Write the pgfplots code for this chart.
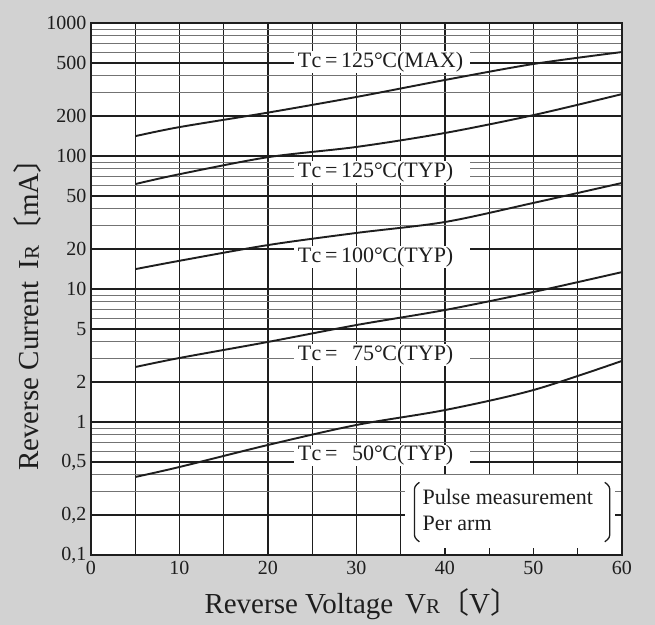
\documentclass[border=0pt]{standalone}
\usepackage{fontspec}
\setmainfont{Liberation Serif}
\newfontfamily\cjk{Noto Sans CJK JP}
\usepackage{pgfplots}
\pgfplotsset{compat=1.18}

\definecolor{bg}{RGB}{210,210,210}
\definecolor{ink}{RGB}{30,30,30}
\definecolor{minorgrid}{RGB}{115,115,115}

\newcommand{\tc}[1]{T\kern0.3bp c\,=\,#1\kern-0.5bp C(TYP)}

\begin{document}
\begin{tikzpicture}
% page background
\fill[bg] (-91bp,-70bp) rectangle (564bp,555bp);
\begin{axis}[
  at={(0,0)}, anchor=south west,
  width=531bp, height=532bp, scale only axis,
  xmin=0, xmax=60, ymin=0.1, ymax=1000,
  ymode=log,
  axis background/.style={fill=white},
  axis line style={line width=1.3bp, ink},
  xtick={0,10,...,60},
  xticklabels={0,10,20,30,40,50,60},
  minor xtick={5,15,...,55},
  ytick={0.1,0.2,0.5,1,2,5,10,20,50,100,200,500,1000},
  yticklabels={{0,1},{0,2},{0,5},1,2,5,10,20,50,100,200,500,1000},
  minor ytick={0.3,0.4,0.6,0.7,0.8,0.9,3,4,6,7,8,9,30,40,60,70,80,90,300,400,600,700,800,900},
  major tick length=0pt, minor tick length=0pt,
  grid=both,
  major x grid style={line width=1.1bp, ink},
  minor x grid style={line width=0.9bp, ink},
  major y grid style={line width=1.2bp, ink},
  minor y grid style={line width=0.9bp, minorgrid},
  tick label style={font=\fontsize{20bp}{20bp}\selectfont, text=ink},
  xticklabel style={yshift=-3bp},
  yticklabel style={xshift=-1bp},
  xlabel={Reverse Voltage\hspace{12bp}V{\fontsize{21bp}{21bp}\selectfont R}{\cjk 〔}V{\cjk 〕}},
  ylabel={Reverse Current\hspace{12bp}I{\fontsize{21bp}{21bp}\selectfont R}{\cjk 〔}mA{\cjk 〕}},
  label style={font=\fontsize{29bp}{29bp}\selectfont, text=ink},
  xlabel style={at={(axis description cs:0.51,-0.092)}, anchor=center},
  ylabel style={at={(axis description cs:-0.119,0.465)}, anchor=center, rotate=0},
  curve/.style={ink, line width=1.9bp, smooth, mark=none},
]
% Tc = 125 C (MAX)
\addplot[curve] coordinates {(5,141) (10,165) (20,212) (30,278) (40,373) (50,492) (60,605)};
% Tc = 125 C (TYP)
\addplot[curve] coordinates {(5,61.5) (10,73) (20,98) (30,117) (40,149) (50,203) (60,292)};
% Tc = 100 C (TYP)
\addplot[curve] coordinates {(5,14.1) (10,16.3) (20,21.4) (30,26.4) (40,31.9) (50,44.4) (60,62.7)};
% Tc = 75 C (TYP)
\addplot[curve] coordinates {(5,2.59) (10,3.03) (20,4.0) (30,5.36) (40,6.95) (50,9.5) (60,13.4)};
% Tc = 50 C (TYP)
\addplot[curve] coordinates {(5,0.386) (10,0.459) (20,0.672) (30,0.95) (40,1.23) (50,1.74) (60,2.88)};

\tikzset{lab/.style={anchor=west, fill=white, inner xsep=4bp, inner ysep=1bp,
  text width=168bp, align=left, text=ink, font=\fontsize{22bp}{22bp}\selectfont}}
\node[lab] at (axis cs:22.9,510) {T\kern0.3bp c\,=\,125°\kern-0.5bp C(MAX)};
\node[lab] at (axis cs:22.9,76) {\tc{125°}};
\node[lab] at (axis cs:22.9,17.4) {\tc{100°}};
\node[lab] at (axis cs:22.9,3.2) {\tc{\phantom{1}75°}};
\node[lab] at (axis cs:22.9,0.56) {\tc{\phantom{1}50°}};

% measurement note
\node[fill=white, minimum width=210bp, minimum height=73bp, inner sep=0pt] (pm) at (axis cs:47.3,0.214) {};
\node[anchor=west, text=ink, align=left, inner sep=0pt,
  font=\fontsize{22bp}{26bp}\selectfont] at ([xshift=18bp,yshift=1bp]pm.west) {Pulse measurement\\Per arm};
\draw[ink, line width=1.3bp, rounded corners=3bp]
  ([xshift=15bp,yshift=-8bp]pm.north west) -- ([xshift=10bp,yshift=-12bp]pm.north west)
  -- ([xshift=10bp,yshift=10bp]pm.south west) -- ([xshift=15bp,yshift=6bp]pm.south west);
\draw[ink, line width=1.3bp, rounded corners=3bp]
  ([xshift=-10bp,yshift=-8bp]pm.north east) -- ([xshift=-5bp,yshift=-12bp]pm.north east)
  -- ([xshift=-5bp,yshift=10bp]pm.south east) -- ([xshift=-10bp,yshift=6bp]pm.south east);
\end{axis}
\end{tikzpicture}
\end{document}
